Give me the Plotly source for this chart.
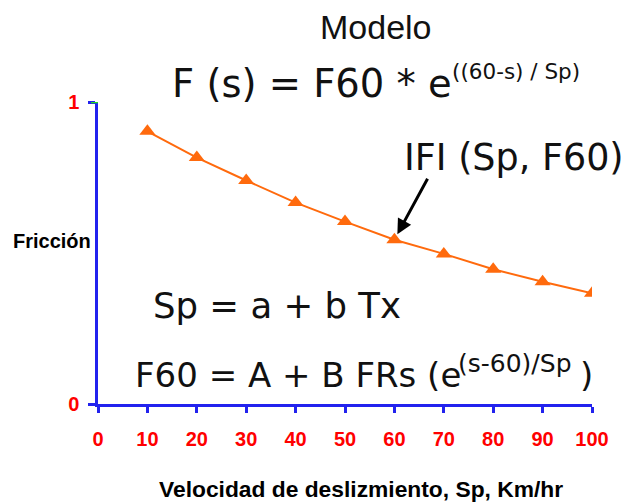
import plotly.graph_objects as go

# ---- data ----
velocidad = [10, 20, 30, 40, 50, 60, 70, 80, 90, 100]
friccion = [0.903, 0.816, 0.740, 0.667, 0.604, 0.544, 0.497, 0.446, 0.405, 0.367]
x_ticks = [0, 10, 20, 30, 40, 50, 60, 70, 80, 90, 100]
y_ticks = [0, 1]
y_tick_labels = ["0", "1"]

W, H = 632, 502
L, R, T, B = 98, 592, 102, 404  # plot area in pixels


def px(x):
    return (x - L) / (R - L)


def py(y):
    return (B - y) / (B - T)


ORANGE = "#FF6A0D"
BLUE = "#2222EE"
RED = "#FF0000"
VERD = "DejaVu Sans"
ARIAL = "Liberation Sans"

fig = go.Figure()
fig.add_trace(go.Scatter(
    x=velocidad, y=friccion, mode="lines+markers",
    line=dict(color=ORANGE, width=2),
    marker=dict(symbol="triangle-up", size=14, color=ORANGE),
    showlegend=False, hoverinfo="x+y",
))

ann = []


def txt(text, x, y, size, family=VERD, xanchor="left", bold=False, color="#111"):
    ann.append(dict(text=("<b>%s</b>" % text) if bold else text,
                    x=px(x), y=py(y), xref="paper", yref="paper",
                    xanchor=xanchor, yanchor="middle", showarrow=False,
                    font=dict(family=family, size=size, color=color)))


txt("Modelo", 376, 27, 34, family=ARIAL, xanchor="center")
txt("F (s) = F60 * e", 170, 84, 38.5)
txt("((60-s) / Sp)", 450, 72, 21.5)
txt("IFI (Sp, F60)", 402, 157, 36.5)
txt("Sp = a + b Tx", 151, 305, 35.5)
txt("F60 = A + B FRs (e", 133, 375, 34)
txt("(s-60)/Sp", 456, 363, 25)
txt(")", 578, 375, 34)
txt("Fricción", 52, 241, 20, family=ARIAL, xanchor="center", bold=True, color="#000")
txt("Velocidad de deslizmiento, Sp, Km/hr", 361, 489, 22.8, family=ARIAL,
    xanchor="center", bold=True, color="#000")

# arrow pointing to the curve at s=60
ann.append(dict(text="", x=velocidad[5] + 0.6, y=friccion[5] + 0.018, xref="x", yref="y",
                showarrow=True, arrowhead=2, arrowsize=1, arrowwidth=3,
                arrowcolor="#000", ax=31, ay=-57, axref="pixel", ayref="pixel"))

fig.update_layout(
    width=W, height=H,
    margin=dict(l=L, r=W - R, t=T, b=H - B),
    paper_bgcolor="white", plot_bgcolor="white",
    annotations=ann,
    xaxis=dict(range=[0, 100], tickvals=x_ticks, showgrid=False, zeroline=False,
               showline=True, linecolor=BLUE, linewidth=2.5,
               ticks="outside", ticklen=6, tickwidth=2.5, tickcolor=BLUE,
               tickfont=dict(family=ARIAL, size=20, color=RED, weight="bold"),
               ticklabelstandoff=9),
    yaxis=dict(range=[0, 1], tickvals=y_ticks, ticktext=y_tick_labels,
               showgrid=False, zeroline=False,
               showline=True, linecolor=BLUE, linewidth=2.5,
               ticks="outside", ticklen=7, tickwidth=2.5, tickcolor=BLUE,
               tickfont=dict(family=ARIAL, size=20, color=RED, weight="bold"),
               ticklabelstandoff=5),
    shapes=[dict(type="line", xref="paper", yref="y", x0=-7 / (R - L), x1=0,
                 y0=1, y1=1, line=dict(color="#22DD22", width=2.5))],
)

fig.write_html("out.html")
